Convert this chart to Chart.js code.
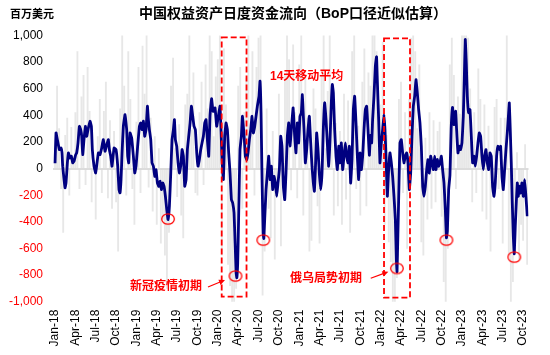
<!DOCTYPE html>
<html><head><meta charset="utf-8">
<script src="https://cdn.jsdelivr.net/npm/chart.js@4.4.0/dist/chart.umd.min.js"></script>
<style>html,body{margin:0;padding:0;background:#fff}</style>
</head><body>
<canvas id="c" width="550" height="355"></canvas>
<script>
// ---- data ----
const tickLabels = ['Jan-18','Apr-18','Jul-18','Oct-18','Jan-19','Apr-19','Jul-19','Oct-19','Jan-20','Apr-20','Jul-20','Oct-20','Jan-21','Apr-21','Jul-21','Oct-21','Jan-22','Apr-22','Jul-22','Oct-22','Jan-23','Apr-23','Jul-23','Oct-23'];
const tickMonths = [0,3,6,9,12,15,18,21,24,27,30,33,36,39,42,45,48,51,54,57,60,63,66,69];

// 14-day moving average (months since Jan-18, USD mn)
const maMonths = [0.0,0.15,0.34,0.64,0.88,1.03,1.13,1.33,1.47,1.62,1.82,1.97,2.21,2.41,2.60,2.80,3.05,3.19,3.39,3.59,3.78,3.93,4.08,4.27,4.47,4.67,4.86,5.16,5.36,5.50,5.75,5.99,6.19,6.39,6.63,6.88,7.12,7.37,7.62,7.86,8.01,8.21,8.40,8.70,8.99,9.24,9.43,9.58,9.73,9.88,10.07,10.32,10.56,10.71,10.86,11.06,
11.30,11.55,11.75,11.94,12.14,12.44,12.63,12.83,13.03,13.22,13.42,13.62,13.76,13.91,14.11,14.30,14.50,14.70,14.89,15.09,15.29,15.48,15.68,15.88,16.07,16.27,16.47,16.66,16.86,17.06,17.25,17.45,17.60,17.74,17.94,18.14,18.33,18.53,18.73,18.92,19.12,19.32,19.51,19.71,19.91,20.10,20.30,20.49,20.69,20.89,21.08,21.28,21.48,21.67,21.87,22.07,22.26,22.46,22.66,22.85,
23.08,23.30,23.59,23.83,24.08,24.32,24.47,24.62,24.82,25.01,25.21,25.41,25.60,25.80,26.00,26.19,26.39,26.55,26.70,26.80,26.93,27.05,27.17,27.27,27.47,27.62,27.76,27.91,28.06,28.26,28.45,28.65,28.85,29.04,29.24,29.44,29.63,29.83,30.07,30.22,30.37,30.52,30.68,30.78,30.93,31.11,31.30,31.50,31.70,31.89,32.09,32.28,32.48,32.68,32.87,33.07,33.27,33.46,33.66,33.86,34.05,34.25,34.45,34.64,
34.89,35.10,35.33,35.52,35.72,35.92,36.11,36.31,36.46,36.61,36.75,36.90,37.10,37.29,37.49,37.69,37.88,38.08,38.23,38.38,38.57,38.77,38.96,39.16,39.36,39.55,39.75,39.95,40.14,40.34,40.54,40.73,40.88,41.03,41.22,41.42,41.62,41.82,42.01,42.21,42.40,42.60,42.80,42.99,43.19,43.39,43.58,43.78,43.98,44.17,44.37,44.57,44.76,44.96,45.16,45.35,45.55,45.75,45.94,46.14,46.34,
46.50,46.68,46.82,47.02,47.22,47.40,47.51,47.71,47.90,48.10,48.30,48.49,48.64,48.79,48.99,49.18,49.38,49.58,49.77,49.97,50.17,50.32,50.42,50.54,50.71,50.85,51.05,51.25,51.44,51.64,51.84,52.03,52.23,52.43,52.62,52.82,53.02,53.21,53.41,53.60,53.80,54.00,54.20,54.39,54.59,54.79,54.98,55.18,55.38,55.57,55.77,55.97,56.16,56.36,56.55,56.75,56.95,57.14,57.34,57.54,57.70,57.84,58.03,
58.22,58.40,58.60,58.81,59.06,59.20,59.40,59.60,59.79,59.99,60.19,60.33,60.48,60.63,60.78,60.97,61.17,61.37,61.56,61.76,61.96,62.15,62.35,62.54,62.74,62.94,63.13,63.33,63.53,63.72,63.92,64.12,64.31,64.51,64.71,64.90,65.10,65.30,65.49,65.69,65.89,66.08,66.28,66.48,66.67,66.87,66.97,67.11,67.26,67.41,67.56,67.70,67.85,68.00,68.15,68.29,68.44,68.64,68.83,69.03,69.23,69.42,69.62];
const maValues = [40,268,218,143,155,118,18,-83,-145,-108,43,118,80,93,43,55,105,118,193,318,293,243,105,218,318,243,293,356,318,143,18,-33,43,118,105,155,218,130,180,218,143,93,18,155,143,18,-158,-183,-83,118,318,406,293,93,43,268,
230,93,-33,18,143,318,343,293,356,243,293,469,368,293,218,43,18,-58,-8,-108,-133,-95,-158,-108,-133,-208,-308,-383,-283,-33,218,293,368,218,168,43,-33,18,143,93,-133,-83,143,243,343,469,393,318,293,118,18,68,143,193,243,343,368,218,93,400,
525,430,456,318,393,469,293,68,-83,243,343,293,118,-33,-233,-258,-333,-559,-784,-820,-709,-408,-83,143,243,393,318,218,93,68,118,218,293,393,268,318,393,469,544,657,419,-83,-486,-525,-358,-158,-33,93,-83,18,-158,-58,-108,-208,-108,-8,243,168,-133,-233,-33,243,343,170,
330,456,243,118,343,193,393,419,556,393,243,43,143,293,393,193,18,-108,-170,-8,268,143,-33,-158,-33,293,494,368,193,18,218,494,632,569,293,93,-8,168,43,193,-8,93,193,93,43,168,-108,68,444,544,343,93,-83,118,-8,93,293,444,469,293,100,
250,193,368,544,769,840,669,368,43,193,293,406,293,93,-208,-8,118,43,-58,-208,-383,-684,-775,-508,-108,193,218,118,43,93,118,43,-158,-33,243,469,544,669,569,444,343,168,-133,-208,-133,-8,68,-33,93,43,-8,93,-8,68,18,43,93,-8,-108,-308,-520,-470,-158,
-50,300,460,330,431,293,118,168,143,193,393,669,970,794,544,419,444,243,43,93,18,93,193,268,243,93,-8,93,143,43,-8,118,93,-133,-208,-108,93,168,143,168,-58,-158,-8,143,268,419,494,293,43,-258,-508,-640,-433,-258,-108,-208,-133,-183,-108,-208,-83,-208,-358];

// daily flows (light grey bars), sampled every 0.3 month from Jan-18
const grayStartMonth = 0;
const grayStepMonths = 0.3;
const grayValues = [
150,620,300,-150,-480,250,380,-200,310,90,
420,880,-150,540,700,-120,760,430,-250,60,
-380,240,520,-180,430,650,-220,360,-300,280,
-250,-620,450,1100,620,-200,880,520,-150,-420,
350,760,-180,920,560,1050,-140,380,-320,240,
-420,150,-560,-380,-650,-900,-480,620,830,150,
-210,330,-350,-520,480,560,1040,290,720,-180,
-200,420,650,-120,780,450,1100,880,240,690,
820,1150,-650,900,480,-720,-880,-1100,-1200,-900,
620,760,-300,420,680,1050,250,880,-200,760,
980,1200,-950,-620,450,-300,-520,280,-680,-150,
560,-580,150,700,1050,820,-160,930,420,-220,
780,1150,-350,690,380,-620,-540,600,450,-280,
-560,700,1020,150,580,1200,420,-350,340,-280,
280,-420,560,-230,510,-480,880,1100,-150,320,
-350,650,900,-280,720,620,1250,1300,880,150,
480,950,-420,250,-550,-700,-1000,-1150,-820,520,
650,-180,420,-600,520,980,1200,880,300,780,
-550,-650,230,-380,420,-300,360,-250,280,350,
-360,-850,-1100,-600,780,980,700,-150,540,410,
1050,1300,1250,980,600,-250,420,-180,750,520,
-320,480,-380,320,-620,-180,460,520,-150,380,
-560,380,1050,-650,-1100,-850,-620,120,-680,-420,
-540,180,-720];

// highlighted troughs
const circleMonths = [16.66,26.6,30.7,50.4,57.7,67.7];
const circleValues = [-379,-807,-537,-750,-537,-665];

// ---- annotations (data coordinates) ----
const annot = {
  boxes: [[24.57,28.23,986,-962],[48.5,52.33,979,-970]],
  texts: [
    {t:'14天移动平均', x:31.69, y:688, align:'left'},
    {t:'新冠疫情初期', x:21.67, y:-890, align:'right'},
    {t:'俄乌局势初期', x:45.26, y:-824, align:'right'}
  ],
  arrows: [[22.55,-890,25.06,-837],[46.54,-824,49.14,-775]]
};

const RED = '#ff0000';
const FONT = "'Liberation Sans', Arial, 'Noto Sans CJK SC', sans-serif";

const ell = document.createElement('canvas');
ell.width = 16; ell.height = 14;
(function(){const g = ell.getContext('2d'); g.strokeStyle = RED; g.lineWidth = 1.3; g.beginPath(); g.ellipse(8,7,6.3,5.2,0,0,Math.PI*2); g.stroke();})();

const annotPlugin = {
  id: 'annot',
  afterDatasetsDraw(chart) {
    const {ctx, scales:{x, y}} = chart;
    ctx.save();
    ctx.strokeStyle = RED; ctx.lineWidth = 1.8; ctx.setLineDash([6,3]);
    annot.boxes.forEach(b => {
      const x1 = x.getPixelForValue(b[0]), x2 = x.getPixelForValue(b[1]);
      const y1 = y.getPixelForValue(b[2]), y2 = y.getPixelForValue(b[3]);
      ctx.strokeRect(x1, y1, x2-x1, y2-y1);
    });
    ctx.setLineDash([]);
    ctx.fillStyle = RED;
    ctx.font = "bold 12px " + FONT;
    ctx.textBaseline = 'middle';
    annot.texts.forEach(t => {
      ctx.textAlign = t.align;
      ctx.fillText(t.t, x.getPixelForValue(t.x), y.getPixelForValue(t.y));
    });
    ctx.lineWidth = 1.2;
    annot.arrows.forEach(a => {
      const sx = x.getPixelForValue(a[0]), sy = y.getPixelForValue(a[1]);
      const ex = x.getPixelForValue(a[2]), ey = y.getPixelForValue(a[3]);
      const ang = Math.atan2(ey-sy, ex-sx);
      ctx.beginPath(); ctx.moveTo(sx, sy); ctx.lineTo(ex - 4*Math.cos(ang), ey - 4*Math.sin(ang)); ctx.stroke();
      ctx.beginPath();
      ctx.moveTo(ex, ey);
      ctx.lineTo(ex - 6*Math.cos(ang) + 2.8*Math.sin(ang), ey - 6*Math.sin(ang) - 2.8*Math.cos(ang));
      ctx.lineTo(ex - 6*Math.cos(ang) - 2.8*Math.sin(ang), ey - 6*Math.sin(ang) + 2.8*Math.cos(ang));
      ctx.closePath(); ctx.fill();
    });
    ctx.restore();
  },
  afterDraw(chart) {
    const ctx = chart.ctx;
    ctx.save();
    ctx.fillStyle = '#000';
    ctx.textBaseline = 'middle';
    ctx.textAlign = 'center';
    ctx.font = "bold 14px " + FONT;
    ctx.fillText('中国权益资产日度资金流向（BoP口径近似估算）', 293, 14);
    ctx.textAlign = 'left';
    ctx.font = "bold 11px " + FONT;
    ctx.fillText('百万美元', 10, 15);
    ctx.restore();
  }
};

new Chart(document.getElementById('c'), {
  type: 'bar',
  data: {
    datasets: [
      {
        type: 'scatter',
        data: circleMonths.map((m,i) => ({x:m, y:circleValues[i]})),
        pointStyle: ell, pointRadius: 7, pointHoverRadius: 7,
        order: 0
      },
      {
        type: 'line',
        data: maMonths.map((m,i) => ({x:m, y:maValues[i]})),
        borderColor: '#000080', borderWidth: 2.8, pointRadius: 0,
        tension: 0.1, fill: false, order: 1
      },
      {
        type: 'bar',
        data: grayValues.map((v,i) => ({x: grayStartMonth + i*grayStepMonths, y: v})),
        backgroundColor: 'rgba(215,215,215,0.6)', barThickness: 1.2,
        order: 2
      }
    ]
  },
  options: {
    responsive: false, animation: false, devicePixelRatio: 1,
    layout: {padding: {left:0, right:21.5, top:35.5, bottom:0}},
    plugins: {legend:{display:false}, tooltip:{enabled:false}, title:{display:false}},
    scales: {
      x: {
        type: 'linear', min: -0.3, max: 69.8, offset: false,
        grid: {display:false, drawTicks:false}, border: {display:false},
        afterBuildTicks: s => { s.ticks = tickMonths.map(v => ({value:v})); },
        afterFit: s => { s.height = 53.3; },
        ticks: {
          autoSkip: false, minRotation: 90, maxRotation: 90, padding: 8,
          color: '#000', font: {size:12, family: FONT},
          callback: v => tickLabels[tickMonths.indexOf(v)]
        }
      },
      y: {
        min: -1000, max: 1000,
        afterFit: s => { s.width = 53; },
        grid: {
          drawTicks: false,
          color: c => c.tick && c.tick.value === 0 ? '#dcdcdc' : 'rgba(0,0,0,0)',
          lineWidth: c => c.tick && c.tick.value === 0 ? 2 : 0
        },
        border: {display:false},
        ticks: {
          stepSize: 200, padding: 10,
          color: c => c.tick.value < 0 ? RED : '#000',
          font: {size:12, family: FONT},
          callback: v => v.toLocaleString('en-US')
        }
      }
    }
  },
  plugins: [annotPlugin]
});
</script>
</body></html>
